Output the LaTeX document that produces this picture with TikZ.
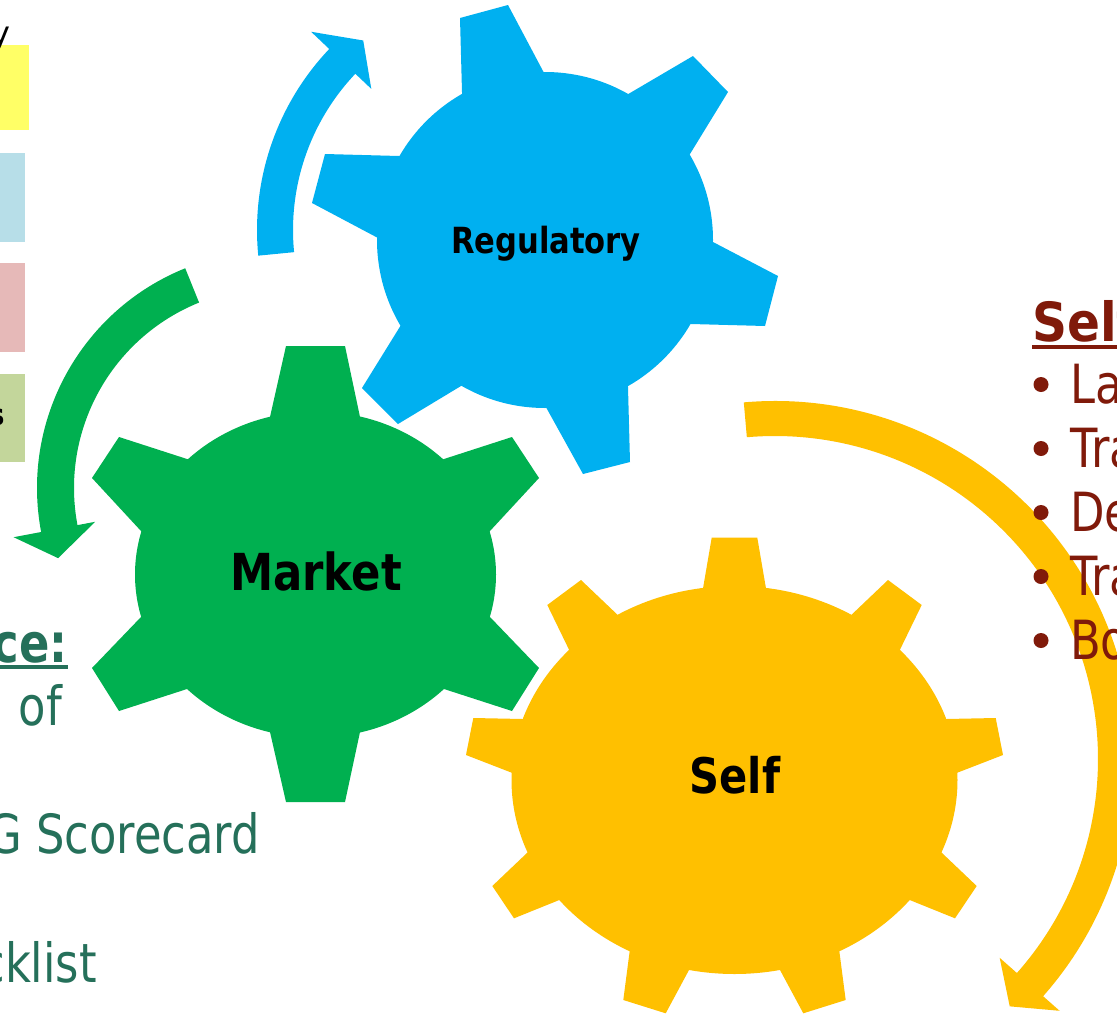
\documentclass[tikz,border=0pt]{standalone}
\usepackage{fontspec}
\setmainfont{DejaVu Sans}
\newfontfamily\gearfont{DejaVu Sans}[FakeStretch=0.85]
\newfontfamily\txtfont{DejaVu Sans}[FakeStretch=0.83]
\newfontfamily\headfont{DejaVu Sans}[FakeStretch=0.9]
\usetikzlibrary{calc}
\definecolor{gblue}{HTML}{00B0F0}
\definecolor{ggreen}{HTML}{00B050}
\definecolor{gyellow}{HTML}{FFC000}
\definecolor{tealtxt}{HTML}{25705A}
\definecolor{dred}{HTML}{801A0A}
\definecolor{boxY}{HTML}{FFFF66}
\definecolor{boxB}{HTML}{B7DEE8}
\definecolor{boxP}{HTML}{E6B9B8}
\definecolor{boxG}{HTML}{C3D69B}
% tooth: colour, tipA, tipB, baseB, baseA
\newcommand\gtooth[5]{\fill[#1] #2 -- #3 -- ($#3!1.6!#4$) -- ($#2!1.6!#5$) -- cycle;}
\tikzset{
  gearlbl/.style={inner sep=0pt, text=black},
  lefttxt/.style={inner sep=0pt, text=tealtxt, font=\txtfont\fontsize{54}{60}\selectfont},
  righttxt/.style={inner sep=0pt, text=dred, font=\txtfont\fontsize{54}{60}\selectfont},
  bulletdot/.style={fill=dred, draw=none}
}
\begin{document}
\begin{tikzpicture}[x=1pt,y=-1pt]
\useasboundingbox (0,0) rectangle (1117,1015);
\fill[white] (0,0) rectangle (1117,1015);

% left coloured boxes
\fill[boxY] (-5,45) rectangle (29.3,130);
\fill[boxB] (-5,153) rectangle (24.7,242);
\fill[boxP] (-5,263) rectangle (24.7,352);
\fill[boxG] (-5,374) rectangle (24.7,462);
\node[inner sep=0pt, anchor=base east, font=\fontsize{32}{32}\selectfont] (yfrag) at (11,44) {y};
\node[inner sep=0pt, anchor=base east, font=\bfseries\fontsize{30}{30}\selectfont] (sfrag) at (5,425) {s};

% ---------- circular arrows ----------
\begin{scope}[shift={(520,230)}]
\fill[gblue] (174.4:263) arc[start angle=174.4,end angle=223.5,radius=263]
  -- (223.5:288) -- (230.4:246) -- (223.5:205) -- (223.5:227)
  arc[start angle=223.5,end angle=174.4,radius=227] -- cycle;
\end{scope}
\begin{scope}[shift={(274,488)}]
\fill[ggreen] (248:237) arc[start angle=248,end angle=169.3,radius=237]
  -- (169.3:265) -- (162:227) -- (169.3:182) -- (169.3:200)
  arc[start angle=169.3,end angle=248,radius=200] -- cycle;
\end{scope}
\begin{scope}[shift={(775,759)}]
\fill[gyellow] (-95:358) arc[start angle=-95,end angle=41.5,radius=358]
  -- (41.5:380) -- (46.5:341) -- (41.5:300) -- (41.5:323)
  arc[start angle=41.5,end angle=-95,radius=323] -- cycle;
\end{scope}

% ---------- Regulatory gear ----------
\fill[gblue] (545,240) circle[radius=168];
\gtooth{gblue}{(460,18)}{(508,5)}{(543,71)}{(462,92)}
\gtooth{gblue}{(693,56)}{(728,92)}{(690,154)}{(630,93)}
\gtooth{gblue}{(778,276)}{(765,326)}{(691,324)}{(713,242)}
\gtooth{gblue}{(630,462)}{(583,474)}{(547,409)}{(628,387)}
\gtooth{gblue}{(398,424)}{(362,388)}{(401,325)}{(461,386)}
\gtooth{gblue}{(312,203)}{(325,154)}{(399,156)}{(378,238)}
\node[gearlbl, anchor=base, font=\gearfont\bfseries\fontsize{36}{40}\selectfont] (reg) at (546,253) {Regulatory};

% ---------- Market gear ----------
\fill[ggreen] (315.5,574.5) ellipse[x radius=180.5, y radius=163];
\gtooth{ggreen}{(286,346)}{(345,346)}{(360,417)}{(270,417)}
\gtooth{ggreen}{(512,437)}{(539,478)}{(490,531)}{(444,459)}
\gtooth{ggreen}{(539,668)}{(512,711)}{(444,689)}{(490,617)}
\gtooth{ggreen}{(345,802)}{(286,802)}{(270,732)}{(360,732)}
\gtooth{ggreen}{(119,711)}{(92,668)}{(141,617)}{(187,689)}
\gtooth{ggreen}{(92,478)}{(119,437)}{(187,459)}{(141,531)}
\node[gearlbl, anchor=base, font=\gearfont\bfseries\fontsize{51}{56}\selectfont] (mkt) at (316,590) {Market};

% ---------- Self gear ----------
\fill[gyellow] (734.5,780) ellipse[x radius=223, y radius=194];
\gtooth{gyellow}{(711.7,537.7)}{(757.3,537.7)}{(765.7,586.7)}{(703.3,586.7)}
\gtooth{gyellow}{(547.3,605)}{(581,580)}{(616.7,614)}{(568.7,649)}
\gtooth{gyellow}{(921.7,605)}{(888,580)}{(852.3,614)}{(900.3,649)}
\gtooth{gyellow}{(473.3,718)}{(466,755)}{(511.7,772.7)}{(522.7,719)}
\gtooth{gyellow}{(995.7,718)}{(1003,755)}{(957.3,772.7)}{(946.3,719)}
\gtooth{gyellow}{(492.3,886)}{(514,918.3)}{(559.3,900)}{(527.7,852.3)}
\gtooth{gyellow}{(976.7,886)}{(955,918.3)}{(909.7,900)}{(941.3,852.3)}
\gtooth{gyellow}{(623.3,1000)}{(665.7,1013.3)}{(689,970)}{(629.7,951)}
\gtooth{gyellow}{(845.7,1000)}{(803.3,1013.3)}{(780,970)}{(839.3,951)}
\node[gearlbl, anchor=base, font=\gearfont\bfseries\fontsize{49}{54}\selectfont] (slf) at (735,793) {Self};

% ---------- left text ----------
\node[lefttxt, anchor=base east, font=\txtfont\bfseries\fontsize{54}{60}\selectfont] (ce) at (68,662) {ce:};
\draw[tealtxt, line width=3.5] ([yshift=-5pt]ce.base west) -- ([yshift=-5pt]ce.base east);
\node[lefttxt, anchor=base east] (of) at (62,725) {of};
\node[lefttxt, anchor=base east] (score) at (260,853) {G Scorecard};
\node[lefttxt, anchor=base east] (check) at (97,982) {cklist};

% ---------- right text ----------
\node[righttxt, anchor=base west, font=\headfont\bfseries\fontsize{54}{60}\selectfont] (selfh) at (1032,341) {Self};
\draw[dred, line width=3.5] ([yshift=-6pt]selfh.base west) -- ([yshift=-6pt]selfh.base east);
\foreach \yy/\lbl/\nm in {403/La/r1, 467/Tra/r2, 531/De/r3, 595/Tra/r4, 659/Bo/r5}{
  \fill[bulletdot] (1041,\yy-18.5) circle[radius=7.5];
  \node[righttxt, anchor=base west] (\nm) at (1070,\yy) {\lbl};
}
\end{tikzpicture}
\end{document}
